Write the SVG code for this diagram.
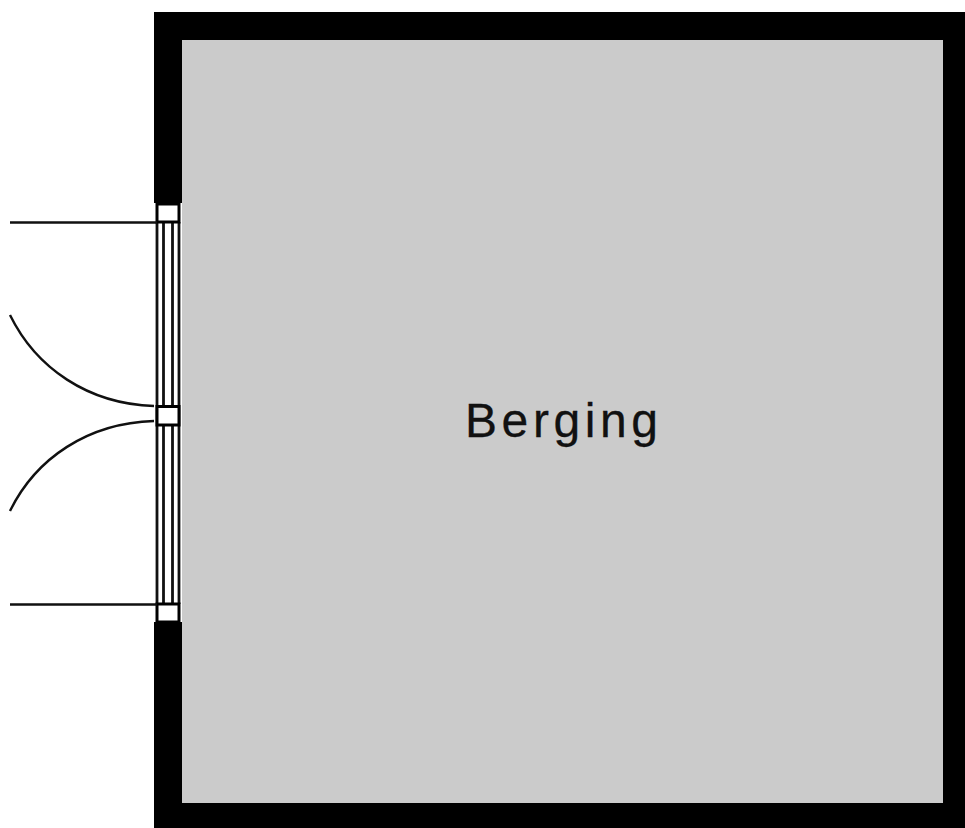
<svg xmlns="http://www.w3.org/2000/svg" width="965" height="828" viewBox="0 0 965 828">
  <style>
    .ln { fill: none; stroke: #111; stroke-width: 2.400; }
    .fr { fill: none; stroke: #111; stroke-width: 2.800; }
    .hv { fill: #fff; stroke: #000; stroke-width: 3; }
    .lbl { font-family: "Liberation Sans", Arial, sans-serif; font-size: 48px; letter-spacing: 4.600px; fill: #111; stroke: #111; stroke-width: 0.300; }
  </style>
  <rect width="965" height="828" fill="#fff"/>
  <g id="room">
    <rect x="182" y="40" width="761" height="763" fill="#cbcbcb"/>
    <path d="M154 203V12H965V828H154V622H182V803H943V40H182V203Z" fill="#000"/>
  </g>
  <g id="door-frame">
    <path class="fr" d="M157 222V604M163.500 222V604M172.500 222V604M179 222V604"/>
    <rect class="hv" x="157" y="204" width="22" height="18"/>
    <rect class="hv" x="157" y="406.500" width="22" height="18.500"/>
    <rect class="hv" x="157" y="604" width="22" height="18"/>
  </g>
  <g id="door-swings">
    <path class="ln" d="M10 222.500H157M10 604.500H157"/>
    <path class="ln" d="M10 315C36 368 88 404 154 406"/>
    <path class="ln" d="M10 511C36 458 88 423 154 421"/>
  </g>
  <text id="label" class="lbl" x="465" y="437">Berging</text>
</svg>
